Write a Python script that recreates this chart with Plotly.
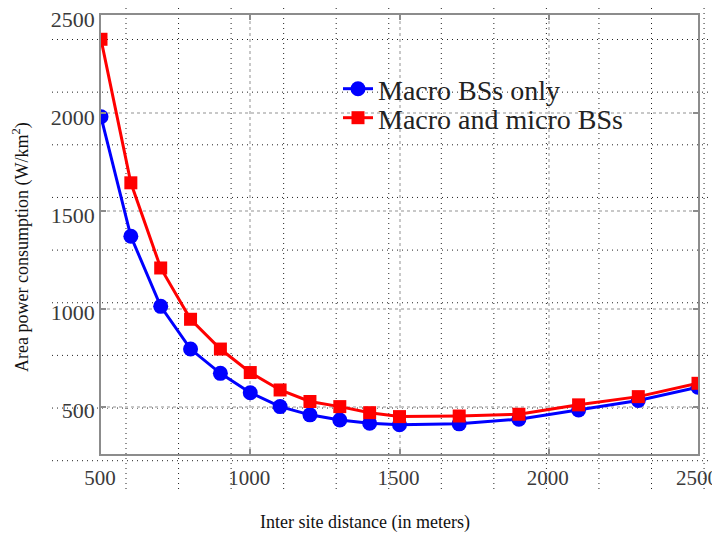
import plotly.graph_objects as go

# ---- data ----
distance = [500, 600, 700, 800, 900, 1000, 1100, 1200, 1300, 1400, 1500, 1700, 1900, 2100, 2300, 2500]
macro_only = [1980, 1370, 1012, 794, 670, 571, 500, 458, 432, 415, 407, 412, 436, 483, 531, 599]
macro_micro = [2376, 1643, 1208, 946, 794, 674, 585, 526, 500, 469, 449, 452, 461, 509, 551, 619]
x_ticks = [500, 1000, 1500, 2000, 2500]
y_ticks = [500, 1000, 1500, 2000, 2500]

# the page body has an 8px margin, so the figure is laid out 8px left/up of target pixels
OFF = 8
W, H = 720 - OFF, 535 - OFF
PW, PH = 597, 439
ML, MT = 101 - OFF, 15 - OFF
MR, MB = W - ML - PW, H - MT - PH

def px_x(p):
    return (p - OFF - ML) / PW

def px_y(p):
    return 1 - (p - OFF - MT) / PH

fig = go.Figure()
fig.add_trace(go.Scatter(
    x=distance, y=macro_only, mode="lines+markers", name="Macro BSs only",
    line=dict(color="#0000ff", width=3),
    marker=dict(symbol="circle", size=15, color="#0000ff"),
    legend="legend",
))
fig.add_trace(go.Scatter(
    x=distance, y=macro_micro, mode="lines+markers", name="Macro and micro BSs",
    line=dict(color="#ff0000", width=3),
    marker=dict(symbol="square", size=13, color="#ff0000"),
    legend="legend2",
))

# decorative dotted overlay grid (screen grid in the reference image)
shapes = []
for k in range(12):
    xp = 126 + 52.55 * k
    shapes.append(dict(type="line", xref="paper", yref="paper",
                       x0=px_x(xp), x1=px_x(xp), y0=px_y(8), y1=px_y(492),
                       line=dict(color="#222222", width=1, dash="1px,4px"), layer="below"))
for k in range(9):
    yp = 39.5 + 52.65 * k
    shapes.append(dict(type="line", xref="paper", yref="paper",
                       x0=px_x(52), x1=px_x(720), y0=px_y(yp), y1=px_y(yp),
                       line=dict(color="#222222", width=1, dash="1px,4px"), layer="below"))

axis_common = dict(
    showline=True, linecolor="#8c8c8c", linewidth=1.5, mirror="ticks",
    ticks="inside", ticklen=5, tickcolor="#8c8c8c", tickwidth=1.5,
    showgrid=True, gridcolor="#c8c8c8", griddash="dot", gridwidth=1.5,
    zeroline=False, automargin=False, ticklabeloverflow="allow",
)

legend_common = dict(xanchor="left", yanchor="middle", bgcolor="rgba(0,0,0,0)",
                     borderwidth=0, itemwidth=30,
                     font=dict(family="Liberation Serif", size=28, color="#222222"))

fig.update_layout(
    width=W, height=H,
    margin=dict(l=ML, r=MR, t=MT, b=MB, autoexpand=False),
    paper_bgcolor="white", plot_bgcolor="rgba(0,0,0,0)",
    xaxis=dict(range=[500, 2500], tickvals=x_ticks, ticklabelstandoff=4, ticklabelshift=-1,
               tickfont=dict(family="Liberation Serif", size=21, color="#3a3a3a"),
               **axis_common),
    yaxis=dict(range=[258, 2500], tickvals=y_ticks, ticklabelstandoff=0, ticklabelshift=4,
               tickfont=dict(family="Liberation Serif", size=22, color="#3a3a3a"),
               **axis_common),
    showlegend=True,
    legend=dict(x=px_x(338), y=px_y(89), **legend_common),
    legend2=dict(x=px_x(338), y=px_y(118), **legend_common),
    shapes=shapes,
    annotations=[
        dict(text="Inter site distance (in meters)", xref="paper", yref="paper",
             x=px_x(365), y=px_y(522), xanchor="center", yanchor="middle", showarrow=False,
             font=dict(family="Liberation Serif", size=18, color="#111111")),
        dict(text="Area power consumption (W/km<sup>2</sup>)", xref="paper", yref="paper",
             x=px_x(21), y=px_y(247), xanchor="center", yanchor="middle", showarrow=False,
             textangle=-90,
             font=dict(family="Liberation Serif", size=18, color="#111111")),
    ],
)

fig.write_html("out.html")
